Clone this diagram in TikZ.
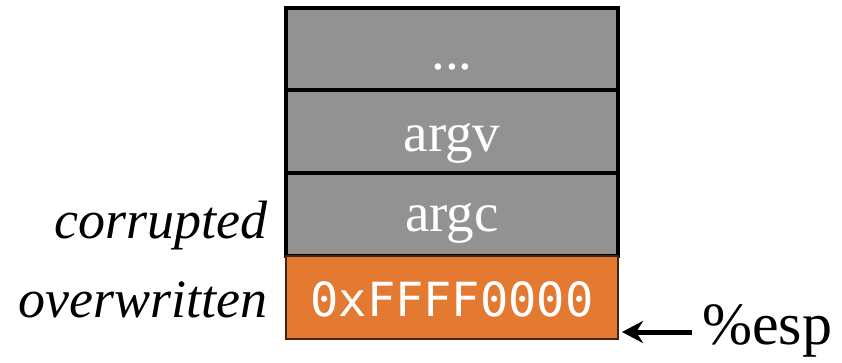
\documentclass[tikz,border=0pt]{standalone}
\usepackage{fontspec}
\setmainfont{Liberation Serif}
\newfontfamily\codefont{DejaVu Sans Mono}
\usetikzlibrary{arrows.meta}
\definecolor{slotgray}{RGB}{145,146,145}
\definecolor{slotorange}{RGB}{228,122,50}
\begin{document}
\begin{tikzpicture}[x=1pt,y=-1pt,
  slot/.style={draw=black, line width=3.5pt, fill=slotgray, minimum width=332pt,
    minimum height=83pt, inner sep=0pt},
  hotslot/.style={slot, fill=slotorange, draw=black!70!slotorange, line width=2pt},
  slottext/.style={anchor=base, inner sep=0pt, text=white, font=\fontsize{55}{55}\selectfont},
  codetext/.style={anchor=base, inner sep=0pt, text=white, font=\codefont\fontsize{47}{47}\selectfont},
  sidelabel/.style={anchor=base east, inner sep=0pt, font=\fontsize{54}{54}\selectfont\itshape}]
  \useasboundingbox (0,0) rectangle (842,363);
  % stack slots, top to bottom
  \node[slot] (s1) at (452,49.5) {};
  \node[slot] (s2) at (452,131.5) {};
  \node[slot] (s3) at (452,214.5) {};
  \node[hotslot] (s4) at (452,297.5) {};
  % slot contents
  \node[slottext] (t1) at (452,70) {...};
  \node[slottext] (t2) at (452,152) {argv};
  \node[slottext] (t3) at (452,232) {argc};
  \node[codetext] (t4) at (452,316) {0xFFFF0000};
  % side labels
  \node[sidelabel] (lc) at (268,238) {corrupted};
  \node[sidelabel] (lo) at (268,317) {overwritten};
  % stack pointer
  \node[anchor=base west, inner sep=0pt, font=\fontsize{60}{60}\selectfont] (esp) at (702,344) {\%esp};
  \coordinate (espend) at (622,332);
  \draw[line width=5pt, -{Stealth[length=21pt,width=22pt]}] (esp.west |- espend) ++(-10,0) -- (espend);
\end{tikzpicture}
\end{document}
